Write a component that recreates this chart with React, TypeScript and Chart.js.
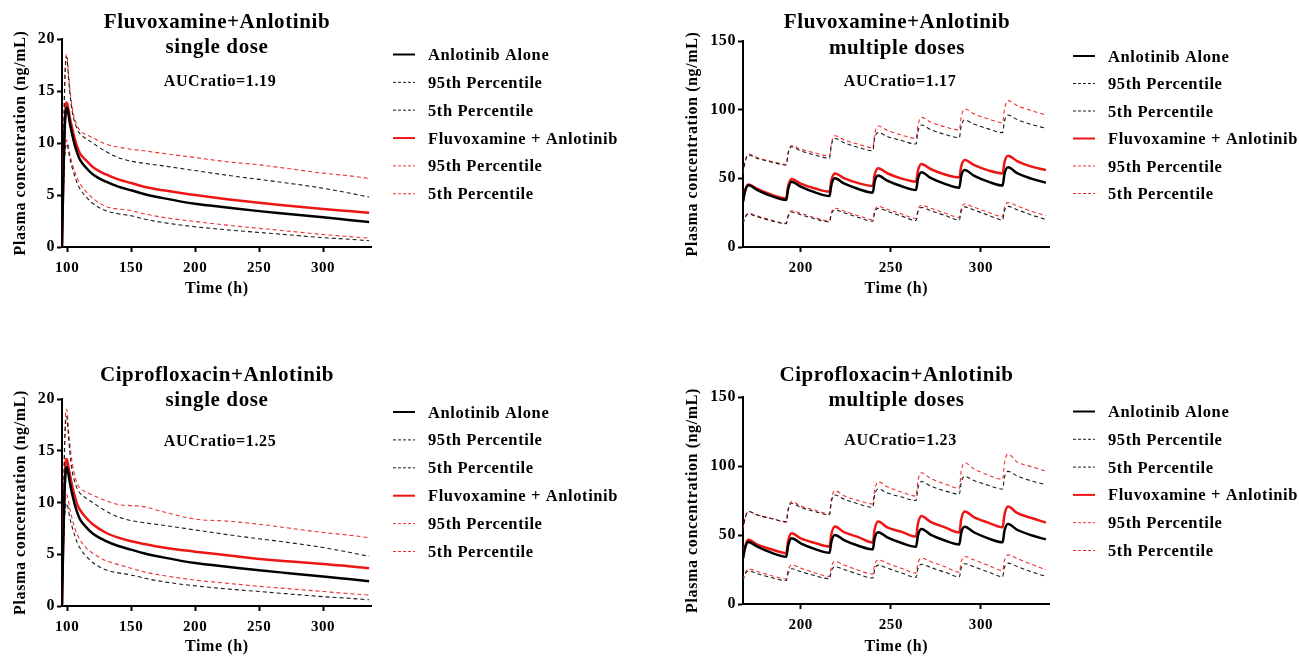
import React, { useEffect, useRef } from "react";
import { Chart, registerables } from "chart.js";

Chart.register(...registerables);

// ---------- data ----------
const T_SINGLE = [96, 97, 98, 99, 99.5, 100, 101, 102, 104, 106, 108, 110, 115, 120, 130, 140, 150, 160, 175, 200, 225, 250, 275, 300, 320, 336];

const ALONE_SD = [0, 6.5, 11, 13.1, 13.4, 13.4, 12.8, 12.0, 10.8, 9.8, 9.0, 8.4, 7.6, 7.0, 6.3, 5.8, 5.45, 5.1, 4.7, 4.15, 3.8, 3.45, 3.15, 2.85, 2.6, 2.4];
const ALONE_SD_P95 = [0, 8, 15, 18, 18.3, 18.1, 16.5, 15, 13, 12, 11.3, 10.9, 10.4, 10.0, 9.2, 8.6, 8.25, 8.05, 7.8, 7.35, 6.9, 6.5, 6.1, 5.65, 5.2, 4.8];
const ALONE_SD_P5 = [0, 5, 8.5, 9.7, 9.9, 9.9, 9.3, 8.6, 7.6, 6.8, 6.1, 5.6, 4.8, 4.2, 3.5, 3.2, 3.0, 2.7, 2.35, 1.95, 1.65, 1.4, 1.15, 0.9, 0.75, 0.6];

const FLUV_SD = [0, 6.7, 11.5, 13.6, 13.9, 13.8, 13.3, 12.5, 11.4, 10.4, 9.6, 9.0, 8.3, 7.7, 7.0, 6.5, 6.15, 5.8, 5.45, 5.0, 4.6, 4.25, 3.95, 3.65, 3.45, 3.3];
const FLUV_SD_P95 = [0, 8.2, 15.3, 18.3, 18.5, 18.3, 16.8, 15.4, 13.4, 12.3, 11.6, 11.2, 10.8, 10.5, 9.9, 9.6, 9.4, 9.25, 9.0, 8.6, 8.2, 7.9, 7.5, 7.1, 6.85, 6.6];
const FLUV_SD_P5 = [0, 5.2, 8.8, 10.0, 10.3, 10.2, 9.7, 9.0, 8.0, 7.2, 6.6, 6.1, 5.3, 4.7, 3.9, 3.65, 3.5, 3.2, 2.85, 2.45, 2.1, 1.8, 1.5, 1.2, 1.0, 0.85];

const CIPRO_SD = [0, 6.8, 11.8, 14.0, 14.2, 14.1, 13.5, 12.8, 11.6, 10.6, 9.8, 9.3, 8.5, 7.9, 7.1, 6.6, 6.25, 6.0, 5.65, 5.25, 4.9, 4.55, 4.3, 4.05, 3.85, 3.65];
const CIPRO_SD_P95 = [0, 8.5, 15.8, 18.8, 19.0, 18.8, 17.2, 15.8, 13.8, 12.6, 11.8, 11.4, 11.0, 10.7, 10.2, 9.8, 9.7, 9.6, 9.1, 8.4, 8.2, 7.9, 7.5, 7.1, 6.85, 6.6];
const CIPRO_SD_P5 = [0, 5.5, 9.3, 10.5, 10.8, 10.7, 10.2, 9.5, 8.4, 7.5, 6.9, 6.4, 5.6, 5.1, 4.4, 4.0, 3.65, 3.3, 2.95, 2.5, 2.2, 1.9, 1.65, 1.4, 1.2, 1.05];

const T_MULTI = [168, 169, 171, 176, 184, 192, 193, 195, 200, 208, 216, 217, 219, 224, 232, 240, 241, 243, 248, 256, 264, 265, 267, 272, 280, 288, 289, 291, 296, 304, 312, 313, 315, 320, 328, 336];

const ALONE_MD = [33, 40, 45, 41.5, 37, 34.2, 42, 47.6, 44, 39.8, 37.1, 45, 50, 46.3, 42.2, 39.6, 47.5, 52, 48.3, 44.2, 41.5, 49.5, 54.4, 50.3, 46, 43.2, 51.5, 56, 52, 47.6, 44.7, 53, 58, 53.8, 49.8, 46.8];
const ALONE_MD_P95 = [53, 61, 67, 64.5, 61.8, 59.7, 68, 73, 70, 67, 64.6, 74, 79, 76, 72.5, 70.1, 79, 83.3, 80.5, 77.5, 75, 84, 88.8, 85.5, 82, 79.6, 88, 92.5, 89.5, 86, 83.3, 91.5, 96.1, 92.8, 89.2, 86.4];
const ALONE_MD_P5 = [17, 21, 24, 22, 19, 17, 22, 25.5, 23.5, 20.5, 18.3, 24, 27, 25, 21.5, 18.8, 25, 28.2, 26, 22.5, 19.3, 25.5, 28.8, 26.5, 23, 19.6, 26, 29.2, 27, 23.2, 19.8, 26.3, 29.6, 27.2, 23.3, 20];

const FLUV_MD = [33.5, 40.5, 45.6, 42.3, 38, 35.4, 44, 49.5, 46.2, 42.6, 40.3, 48.5, 53.6, 50.2, 46.5, 44.4, 52.5, 57.3, 53.7, 49.8, 47.6, 55.5, 60.4, 56.8, 52.8, 50.7, 58.5, 63.3, 59.8, 55.8, 53.6, 61.5, 66.5, 62.6, 58.5, 56];
const FLUV_MD_P95 = [53.5, 61.5, 67.7, 65, 62.3, 60.2, 68.5, 73.8, 71.2, 68.5, 66.3, 75.5, 81, 78, 74.8, 72.3, 82, 88.1, 85, 81.5, 79.1, 88.5, 94.4, 91, 87.5, 85.2, 94.5, 100.5, 97, 93.3, 90.5, 100, 106.6, 103, 99.3, 96.1];
const FLUV_MD_P5 = [17.2, 21.5, 24.5, 22.5, 19.5, 17.3, 23, 26.4, 24.5, 21.3, 19, 25, 28.2, 26.2, 22.8, 20, 26.3, 29.6, 27.5, 24, 20.8, 27, 30.4, 28.3, 24.7, 21.6, 28, 31.3, 29, 25.3, 22.3, 29, 32.3, 30, 26, 22.8];

const CIPRO_MD = [33.5, 41, 46.5, 43, 39.5, 36.8, 45.5, 51.3, 47.5, 44.2, 41.7, 50.5, 56.1, 52, 48.5, 44.6, 54, 59.7, 55.5, 52.3, 48.9, 58, 63.8, 59.5, 55.5, 51.8, 61, 67, 63, 59, 55.6, 64.5, 70.6, 66, 62.3, 59];
const CIPRO_MD_P95 = [54, 61.5, 67, 64.5, 62, 59.2, 68.5, 74.2, 71, 68, 65.3, 76, 82.1, 78.5, 75, 72.5, 82.5, 88.6, 85, 81, 78.3, 89, 95.1, 91, 87, 83.8, 96, 102.4, 98, 93.5, 90.3, 102, 108.6, 103, 99.5, 96.3];
const CIPRO_MD_P5 = [17.5, 22, 25.5, 23.5, 20.5, 18.1, 24.5, 28.4, 26, 22.5, 20, 27, 30.8, 28.3, 24.5, 21.7, 28.5, 32, 29.5, 25.8, 22.4, 29.5, 33.2, 30.8, 27, 23.1, 30.5, 34.4, 32, 28, 24.3, 31.5, 35.6, 33, 28.8, 24.8];

const SD_X_TICKS = [100, 150, 200, 250, 300];
const SD_Y_TICKS = [0, 5, 10, 15, 20];
const MD_X_TICKS = [200, 250, 300];
const MD_Y_TICKS = [0, 50, 100, 150];

const LEGEND_LABELS = [
  "Anlotinib Alone",
  "95th Percentile",
  "5th Percentile",
  "Fluvoxamine + Anlotinib",
  "95th Percentile",
  "5th Percentile",
];

// ---------- styles ----------
const FAMILY = '"Liberation Serif", "Times New Roman", serif';
const STYLES = [
  { color: "#000000", width: 2.5, dash: [] as number[], lw: 2, ld: [] as number[] },
  { color: "#1a1a1a", width: 1.1, dash: [4, 3], lw: 1, ld: [3, 2] },
  { color: "#1a1a1a", width: 1.1, dash: [4, 3], lw: 1, ld: [3, 2] },
  { color: "#ee1515", width: 2.5, dash: [] as number[], lw: 2, ld: [] as number[] },
  { color: "#f03030", width: 1.1, dash: [4, 3], lw: 1, ld: [3, 2] },
  { color: "#f03030", width: 1.1, dash: [4, 3], lw: 1, ld: [3, 2] },
];

type PanelCfg = {
  left: number; top: number; width: number; height: number;
  yAxisWidth: number; xAxisHeight: number;
  padTop: number; padRight: number; padBottom: number;
  xMin: number; xMax: number; yMax: number;
  xTicks: number[]; yTicks: number[];
  t: number[]; series: number[][];
  title1: string; title2: string; auc: string;
  titleCX: number; titleY1: number; titleY2: number;
  aucCX: number; aucY: number;
  legendBase: number; legendStep: number;
  yTitlePad: number;
};

const PANELS: PanelCfg[] = [
  {
    left: 0, top: 0, width: 650, height: 310,
    yAxisWidth: 62, xAxisHeight: 51, padTop: 39, padRight: 278.3, padBottom: 12,
    xMin: 96, xMax: 338, yMax: 20, xTicks: SD_X_TICKS, yTicks: SD_Y_TICKS,
    t: T_SINGLE, series: [ALONE_SD, ALONE_SD_P95, ALONE_SD_P5, FLUV_SD, FLUV_SD_P95, FLUV_SD_P5],
    title1: "Fluvoxamine+Anlotinib", title2: "single dose", auc: "AUCratio=1.19",
    titleCX: 217, titleY1: 22.5, titleY2: 47.5, aucCX: 220, aucY: 82,
    legendBase: 60, legendStep: 27.85, yTitlePad: 11,
  },
  {
    left: 680, top: 0, width: 619, height: 310,
    yAxisWidth: 63, xAxisHeight: 51, padTop: 41, padRight: 249.5, padBottom: 12,
    xMin: 168, xMax: 338, yMax: 150, xTicks: MD_X_TICKS, yTicks: MD_Y_TICKS,
    t: T_MULTI, series: [ALONE_MD, ALONE_MD_P95, ALONE_MD_P5, FLUV_MD, FLUV_MD_P95, FLUV_MD_P5],
    title1: "Fluvoxamine+Anlotinib", title2: "multiple doses", auc: "AUCratio=1.17",
    titleCX: 217, titleY1: 22.5, titleY2: 48.3, aucCX: 220, aucY: 82,
    legendBase: 61.5, legendStep: 27.5, yTitlePad: 3,
  },
  {
    left: 0, top: 356, width: 650, height: 300,
    yAxisWidth: 62, xAxisHeight: 50, padTop: 43, padRight: 278.3, padBottom: 0,
    xMin: 96, xMax: 338, yMax: 20, xTicks: SD_X_TICKS, yTicks: SD_Y_TICKS,
    t: T_SINGLE, series: [ALONE_SD, ALONE_SD_P95, ALONE_SD_P5, CIPRO_SD, CIPRO_SD_P95, CIPRO_SD_P5],
    title1: "Ciprofloxacin+Anlotinib", title2: "single dose", auc: "AUCratio=1.25",
    titleCX: 217, titleY1: 19.5, titleY2: 44.8, aucCX: 220, aucY: 85.5,
    legendBase: 61.5, legendStep: 27.9, yTitlePad: 11,
  },
  {
    left: 680, top: 356, width: 619, height: 300,
    yAxisWidth: 63, xAxisHeight: 52, padTop: 41, padRight: 249.5, padBottom: 0,
    xMin: 168, xMax: 338, yMax: 150, xTicks: MD_X_TICKS, yTicks: MD_Y_TICKS,
    t: T_MULTI, series: [ALONE_MD, ALONE_MD_P95, ALONE_MD_P5, CIPRO_MD, CIPRO_MD_P95, CIPRO_MD_P5],
    title1: "Ciprofloxacin+Anlotinib", title2: "multiple doses", auc: "AUCratio=1.23",
    titleCX: 216.5, titleY1: 19.5, titleY2: 44.8, aucCX: 220.5, aucY: 85,
    legendBase: 61, legendStep: 27.8, yTitlePad: 3,
  },
];

function makeAnnotPlugin(p: PanelCfg) {
  return {
    id: "annot",
    beforeDraw(chart: any) {
      (chart.ctx as any).letterSpacing = "0.6px";
    },
    afterDraw(chart: any) {
      const ctx = chart.ctx as CanvasRenderingContext2D;
      ctx.save();
      (ctx as any).letterSpacing = "0.6px";
      ctx.fillStyle = "#000";
      ctx.textAlign = "center";
      ctx.textBaseline = "middle";
      ctx.font = `bold 21px ${FAMILY}`;
      ctx.fillText(p.title1, p.titleCX, p.titleY1);
      ctx.fillText(p.title2, p.titleCX, p.titleY2);
      ctx.font = `bold 16px ${FAMILY}`;
      ctx.fillText(p.auc, p.aucCX, p.aucY);

      ctx.textAlign = "left";
      ctx.textBaseline = "alphabetic";
      ctx.font = `bold 16.5px ${FAMILY}`;
      LEGEND_LABELS.forEach((lab, i) => {
        const y = p.legendBase + i * p.legendStep;
        const st = STYLES[i];
        ctx.beginPath();
        ctx.strokeStyle = st.color;
        ctx.lineWidth = st.lw;
        ctx.setLineDash(st.ld);
        ctx.moveTo(393, y - 5.5);
        ctx.lineTo(415, y - 5.5);
        ctx.stroke();
        ctx.setLineDash([]);
        ctx.fillStyle = "#000";
        ctx.fillText(lab, 428, y);
      });
      ctx.restore();
    },
  };
}

function Panel({ p }: { p: PanelCfg }) {
  const ref = useRef<HTMLCanvasElement | null>(null);
  useEffect(() => {
    if (!ref.current) return;
    const datasets = p.series.map((vals, i) => ({
      label: LEGEND_LABELS[i],
      data: p.t.map((t, j) => ({ x: t, y: vals[j] })),
      borderColor: STYLES[i].color,
      borderWidth: STYLES[i].width,
      borderDash: STYLES[i].dash,
      pointRadius: 0,
      fill: false,
      cubicInterpolationMode: "monotone" as const,
    }));
    const tickFont = (size: number) => ({ family: FAMILY, size, weight: "bold" as const });
    const chart = new Chart(ref.current, {
      type: "line",
      data: { datasets },
      options: {
        animation: false,
        responsive: false,
        maintainAspectRatio: false,
        events: [],
        layout: { padding: { left: 0, top: p.padTop, right: p.padRight, bottom: p.padBottom } },
        plugins: {
          legend: { display: false },
          tooltip: { enabled: false },
          title: { display: false },
        },
        scales: {
          x: {
            type: "linear",
            min: p.xMin,
            max: p.xMax,
            afterFit: (s: any) => { s.height = p.xAxisHeight; },
            afterBuildTicks: (s: any) => { s.ticks = p.xTicks.map((v) => ({ value: v })); },
            border: { display: true, color: "#000", width: 2 },
            grid: { display: true, drawOnChartArea: false, drawTicks: true, tickLength: 5, tickWidth: 2, tickColor: "#000", color: "#000" },
            ticks: { color: "#000", font: tickFont(15), padding: 7, maxRotation: 0, autoSkip: false },
            title: { display: true, text: "Time (h)", color: "#000", font: tickFont(16), padding: { top: 0, bottom: 0 } },
          },
          y: {
            type: "linear",
            min: 0,
            max: p.yMax,
            afterFit: (s: any) => { s.width = p.yAxisWidth; },
            afterBuildTicks: (s: any) => { s.ticks = p.yTicks.map((v) => ({ value: v })); },
            border: { display: true, color: "#000", width: 2 },
            grid: { display: true, drawOnChartArea: false, drawTicks: true, tickLength: 5, tickWidth: 2, tickColor: "#000", color: "#000" },
            ticks: { color: "#000", font: tickFont(16), padding: 2 },
            title: { display: true, text: "Plasma concentration (ng/mL)", color: "#000", font: tickFont(16), padding: { top: p.yTitlePad, bottom: 0 } },
          },
        },
      },
      plugins: [makeAnnotPlugin(p)],
    } as any);
    return () => chart.destroy();
  }, [p]);
  return (
    <canvas
      ref={ref}
      width={p.width}
      height={p.height}
      style={{ position: "absolute", left: p.left, top: p.top, width: p.width, height: p.height, display: "block" }}
    />
  );
}

export default function App() {
  return (
    <div style={{ position: "absolute", left: 0, top: 0, width: 1299, height: 656, overflow: "hidden", background: "#fff" }}>
      {PANELS.map((p, i) => (
        <Panel key={i} p={p} />
      ))}
    </div>
  );
}
